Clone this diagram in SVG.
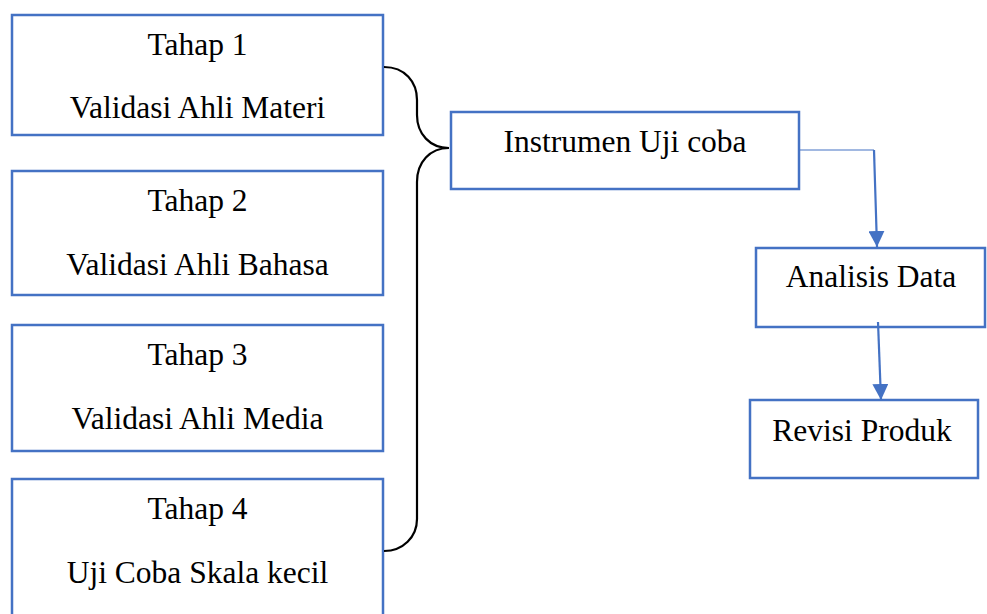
<svg xmlns="http://www.w3.org/2000/svg" width="987" height="614" viewBox="0 0 987 614">
  <style>
    .box { fill: #ffffff; stroke: #4472C4; stroke-width: 2.5; }
    .label { font-family: "Liberation Serif", "Times New Roman", serif; font-size: 31.5px; fill: #000000; text-anchor: middle; }
    .brace { fill: none; stroke: #000000; stroke-width: 2.2; }
    .flow { fill: none; stroke: #4472C4; stroke-width: 2.2; }
    .thin { fill: none; stroke: #4472C4; stroke-width: 1.2; }
  </style>
  <defs>
    <marker id="arrow" viewBox="0 0 10 10" refX="10" refY="5" markerUnits="userSpaceOnUse" markerWidth="16" markerHeight="16" orient="auto">
      <path d="M0,0 L10,5 L0,10 Z" fill="#4472C4"/>
    </marker>
  </defs>
  <rect width="987" height="614" fill="#ffffff"/>

  <g id="tahap1">
    <rect class="box" x="12" y="15" width="371" height="120"/>
    <text class="label" x="197.5" y="55">Tahap 1</text>
    <text class="label" x="197.5" y="118">Validasi Ahli Materi</text>
  </g>
  <g id="tahap2">
    <rect class="box" x="12" y="171" width="371" height="124"/>
    <text class="label" x="197.5" y="211">Tahap 2</text>
    <text class="label" x="197.5" y="275">Validasi Ahli Bahasa</text>
  </g>
  <g id="tahap3">
    <rect class="box" x="12" y="325" width="371" height="126"/>
    <text class="label" x="197.5" y="365">Tahap 3</text>
    <text class="label" x="197.5" y="429">Validasi Ahli Media</text>
  </g>
  <g id="tahap4">
    <rect class="box" x="12" y="479" width="371" height="140"/>
    <text class="label" x="197.5" y="519">Tahap 4</text>
    <text class="label" x="197.5" y="583">Uji Coba Skala kecil</text>
  </g>

  <g id="instrumen">
    <rect class="box" x="451" y="112" width="348" height="77"/>
    <text class="label" x="625" y="152">Instrumen Uji coba</text>
  </g>
  <g id="analisis">
    <rect class="box" x="756" y="248" width="229" height="79"/>
    <text class="label" x="871" y="287">Analisis Data</text>
  </g>
  <g id="revisi">
    <rect class="box" x="750" y="400" width="228" height="78"/>
    <text class="label" x="862" y="441">Revisi Produk</text>
  </g>

  <g id="connectors">
    <!-- curly brace grouping the four stages -->
    <path class="brace" d="M384,67 C405,67 417,82 417,100 L417,115 C417,134 430,148 449,148 C430,148 417,162 417,182 L417,519 C417,537 403,551 384,551"/>
    <!-- instrument to data analysis -->
    <path class="thin" d="M799,150 L874,150"/>
    <path class="flow" d="M874,150 L877,247" marker-end="url(#arrow)"/>
    <!-- data analysis to product revision -->
    <path class="flow" d="M878,322 L881,400" marker-end="url(#arrow)"/>
  </g>
</svg>
